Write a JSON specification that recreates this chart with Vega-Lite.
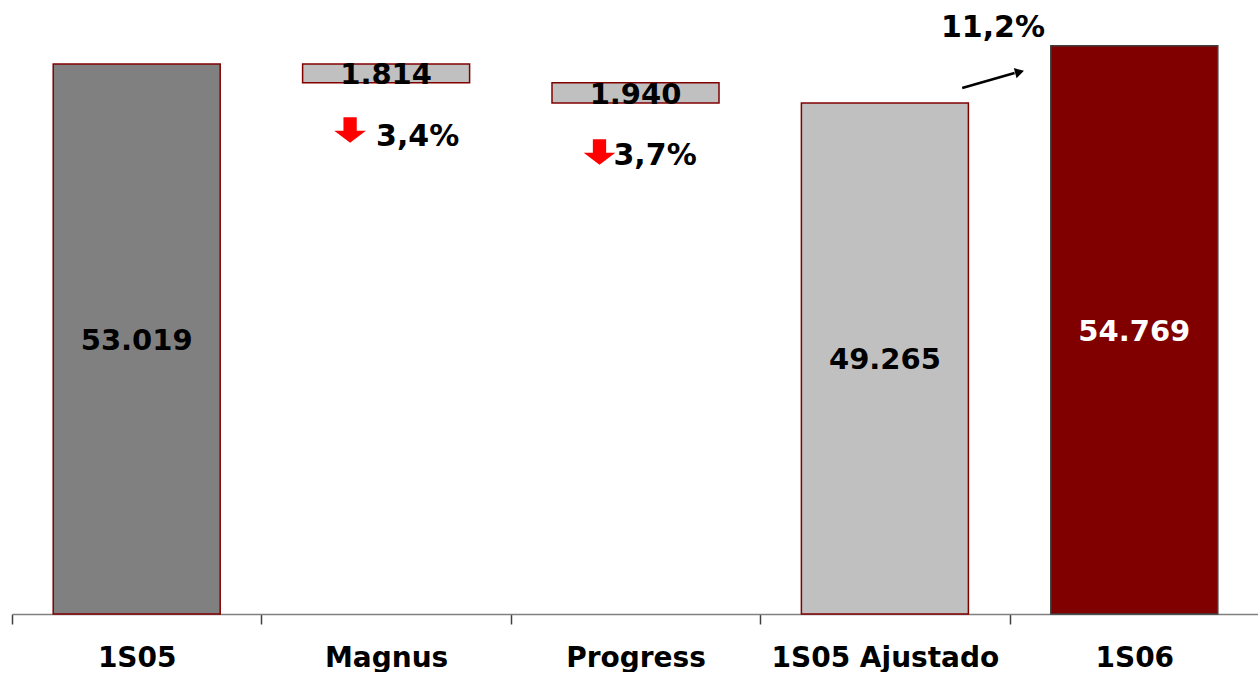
{
  "$schema": "https://vega.github.io/schema/vega-lite/v6.json",
  "width": 1247,
  "height": 614,
  "padding": {"left": 11, "top": 0, "right": 0, "bottom": 0},
  "background": "white",
  "config": {
    "view": {"stroke": null},
    "font": "DejaVu Sans",
    "text": {"font": "DejaVu Sans", "fontWeight": "bold"}
  },
  "data": {
    "values": [
      {"cat": "1S05", "start": 0, "end": 53019, "label": "53.019", "kind": "a"},
      {"cat": "Magnus", "start": 51205, "end": 53019, "label": "1.814", "kind": "b"},
      {"cat": "Progress", "start": 49265, "end": 51205, "label": "1.940", "kind": "b"},
      {"cat": "1S05 Ajustado", "start": 0, "end": 49265, "label": "49.265", "kind": "b"},
      {"cat": "1S06", "start": 0, "end": 54769, "label": "54.769", "kind": "c"}
    ]
  },
  "encoding": {
    "x": {
      "field": "cat", "type": "nominal", "sort": null,
      "scale": {"paddingInner": 0, "paddingOuter": 0},
      "axis": {
        "title": null, "labelAngle": 0, "labelFontSize": 28, "labelFontWeight": "bold",
        "labelFont": "DejaVu Sans", "labelColor": "black", "labelPadding": 20, "labelLimit": 0,
        "tickBand": "extent", "tickSize": 10, "tickColor": "#404040", "tickWidth": 1.5,
        "domainColor": "#808080", "domainWidth": 1.5, "grid": false
      }
    }
  },
  "layer": [
    {
      "mark": {"type": "bar", "width": 167, "strokeWidth": 1.5},
      "encoding": {
        "y": {"field": "start", "type": "quantitative", "scale": {"domain": [0, 59187], "nice": false}, "axis": null},
        "y2": {"field": "end"},
        "fill": {"field": "kind", "type": "nominal", "scale": {"domain": ["a", "b", "c"], "range": ["#808080", "#C0C0C0", "#800000"]}, "legend": null},
        "stroke": {"field": "kind", "type": "nominal", "scale": {"domain": ["a", "b", "c"], "range": ["#800000", "#800000", "#404040"]}, "legend": null}
      }
    },
    {
      "transform": [{"calculate": "(datum.start + datum.end) / 2", "as": "mid"}],
      "mark": {"type": "text", "fontSize": 29, "fontWeight": "bold", "baseline": "middle", "align": "center", "dy": 2},
      "encoding": {
        "y": {"field": "mid", "type": "quantitative"},
        "text": {"field": "label"},
        "color": {"condition": {"test": "datum.cat === '1S06'", "value": "white"}, "value": "black"}
      }
    },
    {
      "data": {"values": [{"cat": "Magnus", "y": 46656}, {"cat": "Progress", "y": 44535}]},
      "mark": {"type": "point", "filled": true, "color": "#FF0000", "opacity": 1, "size": 1000,
        "shape": "M-0.42,-0.8L0.42,-0.8L0.42,0.05L1,0.05L0,0.8L-1,0.05L-0.42,0.05Z", "xOffset": -36},
      "encoding": {"x": {"field": "cat", "type": "nominal"}, "y": {"field": "y", "type": "quantitative"}}
    },
    {
      "data": {"values": [{"cat": "Magnus", "y": 45980, "t": "3,4%"}]},
      "mark": {"type": "text", "fontSize": 30, "fontWeight": "bold", "align": "left", "baseline": "middle", "dx": -10, "color": "black"},
      "encoding": {"x": {"field": "cat", "type": "nominal"}, "y": {"field": "y", "type": "quantitative"}, "text": {"field": "t"}}
    },
    {
      "data": {"values": [{"cat": "Progress", "y": 44149, "t": "3,7%"}]},
      "mark": {"type": "text", "fontSize": 30, "fontWeight": "bold", "align": "left", "baseline": "middle", "dx": -22, "color": "black"},
      "encoding": {"x": {"field": "cat", "type": "nominal"}, "y": {"field": "y", "type": "quantitative"}, "text": {"field": "t"}}
    },
    {
      "data": {"values": [{"cat": "1S05 Ajustado", "y": 56487, "t": "11,2%"}]},
      "mark": {"type": "text", "fontSize": 30, "fontWeight": "bold", "align": "left", "baseline": "middle", "dx": 56, "color": "black"},
      "encoding": {"x": {"field": "cat", "type": "nominal"}, "y": {"field": "y", "type": "quantitative"}, "text": {"field": "t"}}
    },
    {
      "data": {"values": [{"cat": "1S05 Ajustado", "cat2": "1S06", "y": 50704, "y2": 52150}]},
      "mark": {"type": "rule", "strokeWidth": 2.5, "color": "black"},
      "encoding": {
        "x": {"field": "cat", "type": "nominal", "bandPosition": 0.81},
        "x2": {"field": "cat2", "bandPosition": 0.02},
        "y": {"field": "y", "type": "quantitative"},
        "y2": {"field": "y2"}
      }
    },
    {
      "data": {"values": [{"cat": "1S06", "y": 52246}]},
      "mark": {"type": "point", "shape": "triangle-right", "filled": true, "color": "black", "opacity": 1, "size": 110, "angle": 345},
      "encoding": {"x": {"field": "cat", "type": "nominal", "bandPosition": 0.04}, "y": {"field": "y", "type": "quantitative"}}
    }
  ]
}
